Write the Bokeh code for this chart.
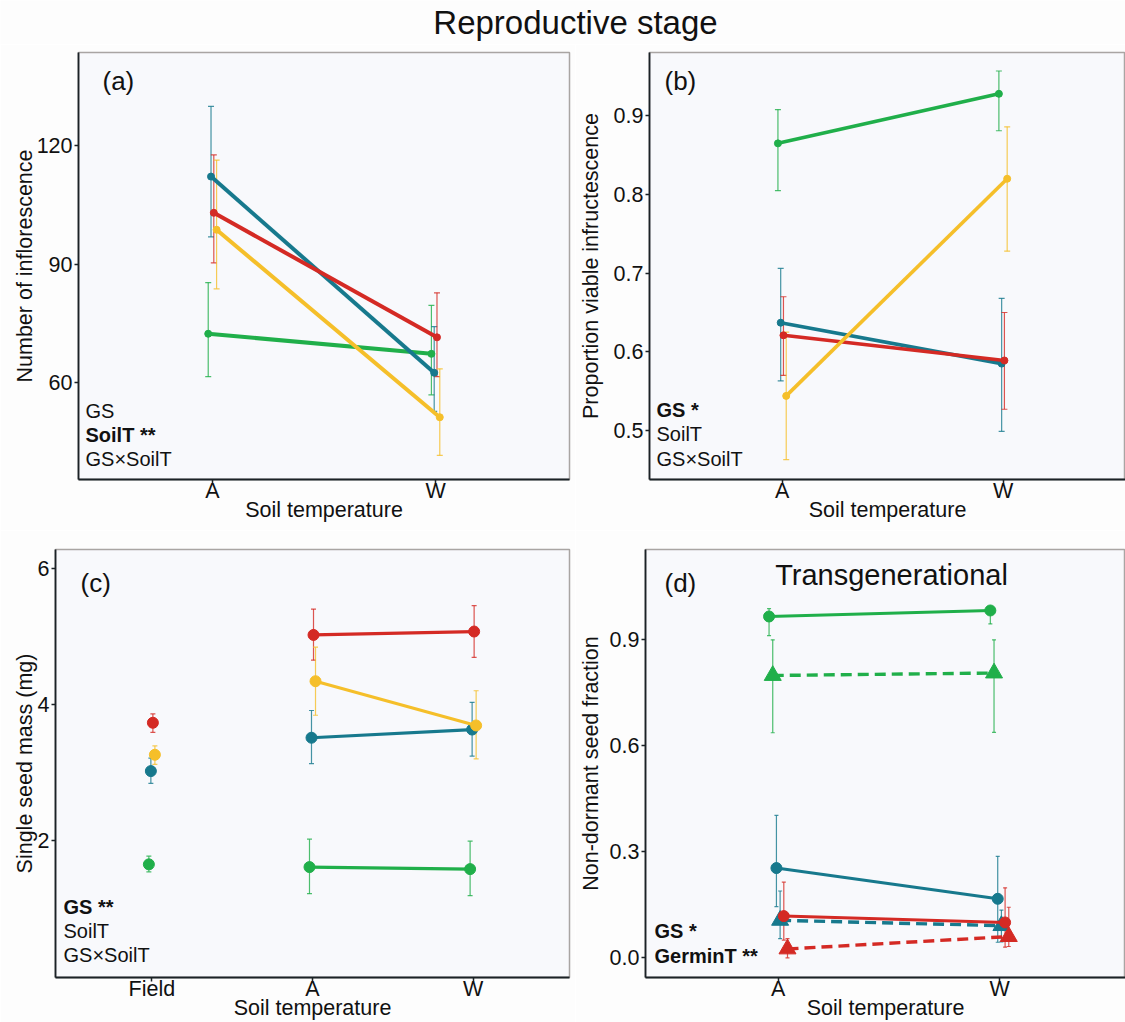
from bokeh.plotting import figure
from bokeh.layouts import column, row
from bokeh.models import Range1d, FixedTicker, Label, NumeralTickFormatter
from bokeh.core.properties import value
from bokeh.embed import file_html
from bokeh.resources import INLINE

FONT = "Liberation Sans"

# ---------------- data ----------------
soil_levels = ["A", "W"]
seed_levels = ["Field", "A", "W"]
groups = ["G1", "G2", "G3", "G4"]           # green, teal, red, yellow
germ_levels = ["GT1", "GT2"]                # circle/solid, triangle/dashed

# (a) number of inflorescence
infl_mean = {"G1": [72.3, 67.2], "G2": [112.2, 62.4], "G3": [103.0, 71.4], "G4": [98.7, 51.1]}
infl_lo = {"G1": [61.4, 56.8], "G2": [96.9, 52.6], "G3": [90.3, 61.4], "G4": [83.7, 41.4]}
infl_hi = {"G1": [85.3, 79.5], "G2": [130.0, 74.1], "G3": [117.7, 82.7], "G4": [116.4, 63.4]}

# (b) proportion viable infructescence
viab_mean = {"G1": [0.865, 0.928], "G2": [0.637, 0.585], "G3": [0.621, 0.589], "G4": [0.544, 0.820]}
viab_lo = {"G1": [0.805, 0.881], "G2": [0.563, 0.499], "G3": [0.570, 0.527], "G4": [0.463, 0.728]}
viab_hi = {"G1": [0.908, 0.957], "G2": [0.706, 0.668], "G3": [0.670, 0.650], "G4": [0.625, 0.886]}

# (c) single seed mass (Field, A, W)
mass_mean = {"G1": [1.65, 1.61, 1.58], "G2": [3.02, 3.51, 3.63], "G3": [3.73, 5.02, 5.07], "G4": [3.26, 4.34, 3.69]}
mass_lo = {"G1": [1.54, 1.22, 1.19], "G2": [2.84, 3.13, 3.24], "G3": [3.59, 4.65, 4.69], "G4": [3.12, 3.84, 3.20]}
mass_hi = {"G1": [1.77, 2.02, 1.99], "G2": [3.21, 3.91, 4.03], "G3": [3.86, 5.40, 5.45], "G4": [3.39, 4.84, 4.20]}

# (d) non-dormant seed fraction, series (group, germination temperature)
nd_series = [("G1", "GT1"), ("G1", "GT2"), ("G2", "GT1"), ("G2", "GT2"), ("G3", "GT1"), ("G3", "GT2")]
nd_mean = {("G1", "GT1"): [0.966, 0.983], ("G1", "GT2"): [0.799, 0.806],
           ("G2", "GT1"): [0.254, 0.167], ("G2", "GT2"): [0.106, 0.091],
           ("G3", "GT1"): [0.118, 0.100], ("G3", "GT2"): [0.025, 0.060]}
nd_lo = {("G1", "GT1"): [0.912, 0.945], ("G1", "GT2"): [0.637, 0.638],
         ("G2", "GT1"): [0.145, 0.044], ("G2", "GT2"): [0.054, 0.045],
         ("G3", "GT1"): [0.050, 0.030], ("G3", "GT2"): [0.000, 0.032]}
nd_hi = {("G1", "GT1"): [0.988, 0.995], ("G1", "GT2"): [0.900, 0.900],
         ("G2", "GT1"): [0.403, 0.287], ("G2", "GT2"): [0.189, 0.135],
         ("G3", "GT1"): [0.214, 0.198], ("G3", "GT2"): [0.054, 0.143]}

ticks_a = [60, 90, 120]
ticks_b = [0.5, 0.6, 0.7, 0.8, 0.9]
ticks_c = [2, 4, 6]
ticks_d = [0.0, 0.3, 0.6, 0.9]

sig_a = [("GS", False), ("SoilT **", True), ("GS\u00d7SoilT", False)]
sig_b = [("GS *", True), ("SoilT", False), ("GS\u00d7SoilT", False)]
sig_c = [("GS **", True), ("SoilT", False), ("GS\u00d7SoilT", False)]
sig_d = [("GS *", True), ("GerminT **", True)]

# ---------------- style ----------------
COL = {"G1": "#20AF4A", "G2": "#17798D", "G3": "#D42A24", "G4": "#F5BF2A"}
DODGE4 = {"G1": -0.01875, "G2": -0.00625, "G3": 0.00625, "G4": 0.01875}
DODGE6 = [-0.04167, -0.025, -0.00833, 0.00833, 0.025, 0.04167]
PAGE_BG = "#FDFDFD"
PANEL_BG = "#F8F9FC"
AX = "#1B2226"
TXT = "#111111"
MID = 0.3465   # em distance from baseline to text-box middle


def make_fig(width, height, left, right, top, bottom, xr, yr, xlevels, yticks,
             xlab, ylab, ystand, yfmt=None):
    p = figure(width=width, height=height, x_range=Range1d(*xr), y_range=Range1d(*yr),
               output_backend="svg", toolbar_location=None,
               min_border_left=left, min_border_right=right,
               min_border_top=top, min_border_bottom=bottom)
    p.background_fill_color = PANEL_BG
    p.border_fill_color = PAGE_BG
    p.outline_line_color = "#A9A5A3"
    p.outline_line_width = 1.5
    p.xgrid.visible = False
    p.ygrid.visible = False
    for ax in (p.xaxis[0], p.yaxis[0]):
        ax.axis_line_color = AX
        ax.axis_line_width = 1.8
        ax.major_tick_line_color = AX
        ax.major_tick_line_width = 1.5
        ax.major_tick_in = 0
        ax.major_tick_out = 4
        ax.minor_tick_line_color = None
        ax.major_label_text_font = FONT
        ax.major_label_text_font_size = "21.5px"
        ax.major_label_text_color = TXT
        ax.axis_label_text_font = FONT
        ax.axis_label_text_font_size = "21.5px"
        ax.axis_label_text_font_style = "normal"
        ax.axis_label_text_color = TXT
    xt = list(range(1, len(xlevels) + 1))
    p.xaxis.ticker = FixedTicker(ticks=xt)
    p.xaxis.major_label_overrides = {t: l for t, l in zip(xt, xlevels)}
    p.xaxis.major_label_standoff = -5
    p.xaxis.axis_label = xlab
    p.xaxis.axis_label_standoff = -8
    p.yaxis.ticker = FixedTicker(ticks=yticks)
    p.yaxis.major_label_standoff = 2
    p.yaxis.axis_label = ylab
    p.yaxis.axis_label_standoff = ystand
    if yfmt:
        p.yaxis.formatter = NumeralTickFormatter(format=yfmt)
    return p


def label(p, fl, fb, text, X, Ybase, size, bold=False, align="left"):
    # Ybase: wanted baseline (page px); label anchored at the text-box middle
    Y = Ybase - MID * size
    p.add_layout(Label(x=X - fl, y=fb - Y, x_units="screen", y_units="screen", text=text,
                       text_font=FONT, text_font_size=f"{size}px",
                       text_font_style="bold" if bold else "normal",
                       text_align=align, text_baseline="middle", text_color=TXT))


def errbars(p, xs, lo, hi, color, cap, lw=1.2, alpha=0.8):
    p.segment(x0=xs, y0=lo, x1=xs, y1=hi, line_color=color, line_width=lw, line_alpha=alpha)
    p.scatter(x=list(xs) + list(xs), y=list(lo) + list(hi), marker="dash", size=cap,
              line_color=color, line_width=lw, line_alpha=alpha)


def sig_block(p, fl, fb, items, X, Y0, step, size=20):
    for i, (t, b) in enumerate(items):
        label(p, fl, fb, t, X, Y0 + i * step, size, bold=b)


# ---------------- title strip ----------------
TH = 44
tfig = figure(width=1125, height=TH, x_range=Range1d(0, 1125), y_range=Range1d(0, TH),
              output_backend="svg", toolbar_location=None,
              x_axis_location=None, y_axis_location=None,
              min_border_left=0, min_border_right=0, min_border_top=0, min_border_bottom=0)
tfig.outline_line_color = None
tfig.background_fill_color = PAGE_BG
tfig.border_fill_color = PAGE_BG
tfig.xgrid.visible = False
tfig.ygrid.visible = False
tfig.text(x=[575], y=[TH - (33 - MID * 33)], text=["Reproductive stage"], text_font=value(FONT),
          text_font_size="33px", text_align="center", text_baseline="middle", text_color=TXT)

# ---------------- (a) ----------------
FLa, FBa = 78, 479
pa = make_fig(575, 486, 78, 6, 8, 51, (0.4, 2.6), (35.3, 143.7), soil_levels, ticks_a,
              "Soil temperature", "Number of inflorescence", -3)
for g in groups:
    xs = [i + 1 + DODGE4[g] for i in range(len(soil_levels))]
    errbars(pa, xs, infl_lo[g], infl_hi[g], COL[g], 6)
for g in groups:
    xs = [i + 1 + DODGE4[g] for i in range(len(soil_levels))]
    pa.line(xs, infl_mean[g], line_color=COL[g], line_width=4)
    pa.scatter(xs, infl_mean[g], size=7, fill_color=COL[g], line_color=COL[g])
label(pa, FLa, FBa, "(a)", 102, 90, 26)
sig_block(pa, FLa, FBa, sig_a, 85, 417, 24.3)

# ---------------- (b) ----------------
FLb, FBb = 639, 479
pb = make_fig(550, 486, 64, 0, 8, 51, (0.4, 0.4 + 486 / 225.6), (0.4377, 0.9805), soil_levels, ticks_b,
              "Soil temperature", "Proportion viable infructescence", 8, "0.0")
for g in groups:
    xs = [i + 1 + DODGE4[g] for i in range(len(soil_levels))]
    errbars(pb, xs, viab_lo[g], viab_hi[g], COL[g], 6)
for g in groups:
    xs = [i + 1 + DODGE4[g] for i in range(len(soil_levels))]
    pb.line(xs, viab_mean[g], line_color=COL[g], line_width=3.6)
    pb.scatter(xs, viab_mean[g], size=7, fill_color=COL[g], line_color=COL[g])
label(pb, FLb, FBb, "(b)", 654, 90, 26)
sig_block(pb, FLb, FBb, sig_b, 646, 416, 24.5)

# ---------------- (c) ----------------
FLc, FBc = 55, 977
pc = make_fig(575, 492, 55, 6, 19, 45, (0.4, 3.6), (-0.012, 6.275), seed_levels, ticks_c,
              "Soil temperature", "Single seed mass (mg)", -2)
for g in groups:
    xs = [i + 1 + DODGE4[g] for i in range(len(seed_levels))]
    errbars(pc, xs, mass_lo[g], mass_hi[g], COL[g], 5)
for g in groups:
    xs = [i + 1 + DODGE4[g] for i in range(len(seed_levels))]
    pc.line(xs[1:], mass_mean[g][1:], line_color=COL[g], line_width=3.2)
    pc.scatter(xs, mass_mean[g], size=11, fill_color=COL[g], line_color=COL[g])
label(pc, FLc, FBc, "(c)", 80, 592, 26)
sig_block(pc, FLc, FBc, sig_c, 63, 913, 24.4)

# ---------------- (d) ----------------
FLd, FBd = 635, 977
pd_ = make_fig(550, 492, 60, 0, 19, 45, (0.4, 0.4 + 490 / 225.9), (-0.0558, 1.1556), soil_levels, ticks_d,
               "Soil temperature", "Non-dormant seed fraction", 4, "0.0")
for k, s in enumerate(nd_series):
    g = s[0]
    xs = [i + 1 + DODGE6[k] for i in range(len(soil_levels))]
    errbars(pd_, xs, nd_lo[s], nd_hi[s], COL[g], 4)
for k, s in enumerate(nd_series):
    g, gt = s
    xs = [i + 1 + DODGE6[k] for i in range(len(soil_levels))]
    if gt == "GT1":
        pd_.line(xs, nd_mean[s], line_color=COL[g], line_width=3)
        pd_.scatter(xs, nd_mean[s], size=11, fill_color=COL[g], line_color=COL[g])
    else:
        pd_.line(xs, nd_mean[s], line_color=COL[g], line_width=3.4, line_dash="11 6")
        pd_.scatter(xs, nd_mean[s], marker="triangle", size=17, fill_color=COL[g], line_color=COL[g])
label(pd_, FLd, FBd, "(d)", 654, 592, 26)
label(pd_, FLd, FBd, "Transgenerational", 881, 585, 29, align="center")
sig_block(pd_, FLd, FBd, sig_d, 644, 937, 25)

layout = column(tfig, row(pa, pb), row(pc, pd_))
open("out.html", "w").write(file_html(layout, INLINE))
